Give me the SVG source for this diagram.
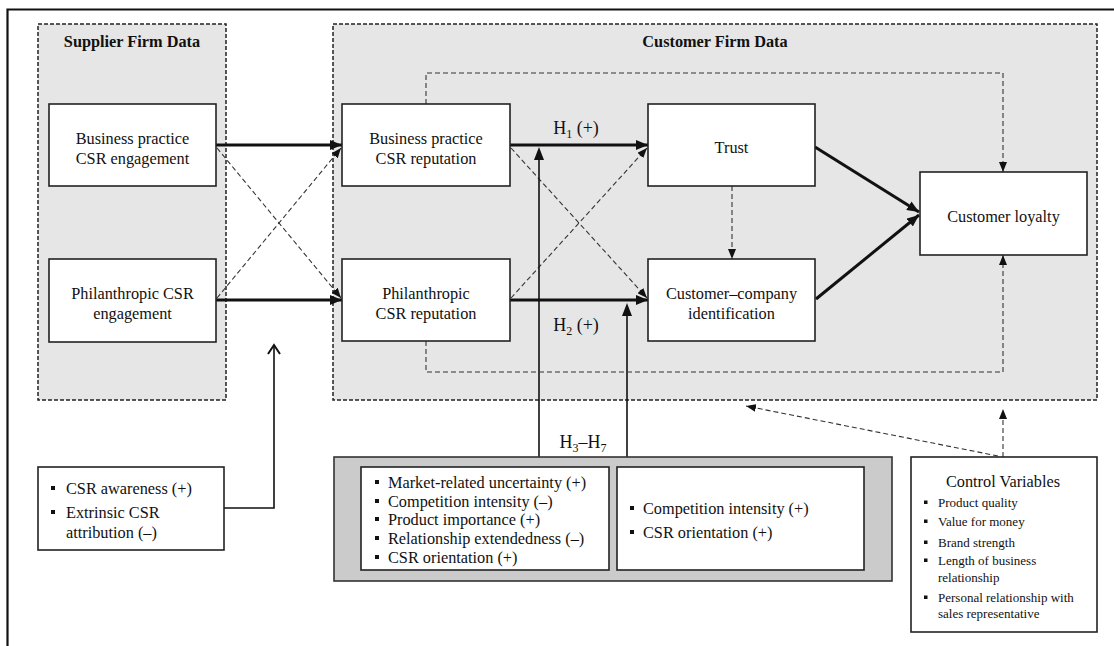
<svg xmlns="http://www.w3.org/2000/svg" width="1114" height="646" viewBox="0 0 1114 646" font-family="'Liberation Serif','Times New Roman',serif">
<defs>
<style>
text{font-family:"Liberation Serif","Times New Roman",serif;fill:#111;}
.t{font-size:16.3px;}
.c{text-anchor:middle;}
.b{font-weight:bold;}
.s{font-size:13px;}
.node{fill:#fff;stroke:#222;stroke-width:1.6;}
.area{fill:#e6e6e6;stroke:#222;stroke-width:1.5;stroke-dasharray:4 2;}
.thick{fill:none;stroke:#111;stroke-width:3;marker-end:url(#aT);}
.dasha{fill:none;stroke:#333;stroke-width:1.1;stroke-dasharray:5 3;marker-end:url(#aS);}
.mod{fill:none;stroke:#111;stroke-width:1.6;}
.bul{fill:#111;}
</style>
<marker id="aT" markerUnits="userSpaceOnUse" markerWidth="12" markerHeight="10" refX="12" refY="5" orient="auto"><path d="M0,0 L12,5 L0,10 z" fill="#111"/></marker>
<marker id="aS" markerUnits="userSpaceOnUse" markerWidth="10" markerHeight="8" refX="10" refY="4" orient="auto"><path d="M0,0 L10,4 L0,8 z" fill="#111"/></marker>
<marker id="aO" markerUnits="userSpaceOnUse" markerWidth="12" markerHeight="14" refX="10" refY="7" orient="auto"><path d="M1,1 L10,7 L1,13" fill="none" stroke="#111" stroke-width="2"/></marker>
</defs>
<rect width="1114" height="646" fill="#fff"/>
<g id="frame"><path d="M7.5,646 L7.5,9.5 L1114,9.5" fill="none" stroke="#111" stroke-width="2.2"/></g>

<g id="supplier-area"><rect class="area" x="38" y="24" width="188" height="376"/><text class="t b c" x="132" y="46.5">Supplier Firm Data</text></g>
<g id="customer-area"><rect class="area" x="333" y="24" width="764" height="376"/><text class="t b c" x="715" y="46.5">Customer Firm Data</text></g>

<g id="connectors">
<path class="thick" d="M216,145 L342,145"/>
<path class="thick" d="M216,300 L342,300"/>
<path class="dasha" d="M217,148 L341,298"/>
<path class="dasha" d="M217,298 L341,148"/>
<path class="thick" d="M510,145 L648,145"/>
<path class="thick" d="M510,300 L648,300"/>
<path class="dasha" d="M511,148 L647,298"/>
<path class="dasha" d="M511,298 L647,148"/>
<path class="mod" d="M539,457 L539,158"/>
<path d="M534,160 L539,147 L544,160 z" fill="#111"/>
<path class="mod" d="M627,457 L627,314"/>
<path d="M622,316 L627,303 L632,316 z" fill="#111"/>
<path class="dasha" d="M732,186 L732,259"/>
<path class="thick" d="M815,147 L919,212"/>
<path class="thick" d="M816,299 L919,215"/>
<path class="dasha" d="M426,104 L426,73 L1003,73 L1003,172"/>
<path class="dasha" d="M426,341 L426,372 L1003,372 L1003,255"/>
<path d="M224,508 L274,508 L274,345" fill="none" stroke="#111" stroke-width="1.6" marker-end="url(#aO)"/>
<path class="dasha" d="M1003,457 L1003,409"/>
<path class="dasha" d="M998,456 L746,406"/>
</g>

<g id="n-bp-eng"><rect class="node" x="49" y="104" width="167" height="82"/><text class="t c" x="132.5" y="143.5">Business practice</text><text class="t c" x="132.5" y="163.5">CSR engagement</text></g>
<g id="n-ph-eng"><rect class="node" x="49" y="259" width="167" height="83"/><text class="t c" x="132.5" y="298.5">Philanthropic CSR</text><text class="t c" x="132.5" y="318.5">engagement</text></g>
<g id="n-bp-rep"><rect class="node" x="342" y="104" width="168" height="82"/><text class="t c" x="426" y="143.5">Business practice</text><text class="t c" x="426" y="163.5">CSR reputation</text></g>
<g id="n-ph-rep"><rect class="node" x="342" y="259" width="168" height="82"/><text class="t c" x="426" y="298.5">Philanthropic</text><text class="t c" x="426" y="318.5">CSR reputation</text></g>
<g id="n-trust"><rect class="node" x="648" y="104" width="167" height="82"/><text class="t c" x="731.5" y="152.5">Trust</text></g>
<g id="n-cci"><rect class="node" x="648" y="259" width="167" height="82"/><text class="t c" x="731.5" y="298.5">Customer–company</text><text class="t c" x="731.5" y="318.5">identification</text></g>
<g id="n-loyalty"><rect class="node" x="920" y="172" width="167" height="83"/><text class="t c" x="1003.5" y="221.5">Customer loyalty</text></g>

<g id="labels">
<text x="576" y="134" font-size="18" class="c">H<tspan font-size="12" dy="4">1</tspan><tspan dy="-4"> (+)</tspan></text>
<text x="576" y="331" font-size="18" class="c">H<tspan font-size="12" dy="4">2</tspan><tspan dy="-4"> (+)</tspan></text>
<text x="583" y="448" font-size="18" class="c">H<tspan font-size="12" dy="4">3</tspan><tspan dy="-4">–H</tspan><tspan font-size="12" dy="4">7</tspan></text>
</g>

<g id="n-csr-awareness"><rect class="node" x="38" y="467" width="186" height="83"/>
<rect class="bul" x="51" y="486" width="4" height="4"/><text class="t" x="66" y="493.5">CSR awareness (+)</text>
<rect class="bul" x="51" y="510" width="4" height="4"/><text class="t" x="66" y="517.5">Extrinsic CSR</text>
<text class="t" x="66" y="537.5">attribution (–)</text></g>

<g id="n-moderators"><rect x="334" y="457" width="558" height="124" fill="#cbcbcb" stroke="#333" stroke-width="1.6"/>
<rect class="node" x="361" y="467" width="248" height="103"/>
<rect class="bul" x="375" y="480" width="4" height="4"/><text class="t" x="388" y="487.5">Market-related uncertainty (+)</text>
<rect class="bul" x="375" y="499" width="4" height="4"/><text class="t" x="388" y="506.5">Competition intensity (–)</text>
<rect class="bul" x="375" y="517" width="4" height="4"/><text class="t" x="388" y="524.5">Product importance (+)</text>
<rect class="bul" x="375" y="536" width="4" height="4"/><text class="t" x="388" y="543.5">Relationship extendedness (–)</text>
<rect class="bul" x="375" y="555" width="4" height="4"/><text class="t" x="388" y="562.5">CSR orientation (+)</text>
<rect class="node" x="617" y="467" width="247" height="103"/>
<rect class="bul" x="630" y="506" width="4" height="4"/><text class="t" x="643" y="513.5">Competition intensity (+)</text>
<rect class="bul" x="630" y="530" width="4" height="4"/><text class="t" x="643" y="537.5">CSR orientation (+)</text></g>

<g id="n-controls"><rect class="node" x="911" y="457" width="186" height="175"/>
<text class="t c" x="1003" y="486.5">Control Variables</text>
<rect class="bul" x="924" y="500.5" width="3.5" height="3.5"/><text class="s" x="938" y="506.5">Product quality</text>
<rect class="bul" x="924" y="519.5" width="3.5" height="3.5"/><text class="s" x="938" y="525.5">Value for money</text>
<rect class="bul" x="924" y="540.5" width="3.5" height="3.5"/><text class="s" x="938" y="546.5">Brand strength</text>
<rect class="bul" x="924" y="558.5" width="3.5" height="3.5"/><text class="s" x="938" y="564.5">Length of business</text>
<text class="s" x="938" y="581.5">relationship</text>
<rect class="bul" x="924" y="595.5" width="3.5" height="3.5"/><text class="s" x="938" y="601.5">Personal relationship with</text>
<text class="s" x="938" y="617.5">sales representative</text></g>
</svg>
